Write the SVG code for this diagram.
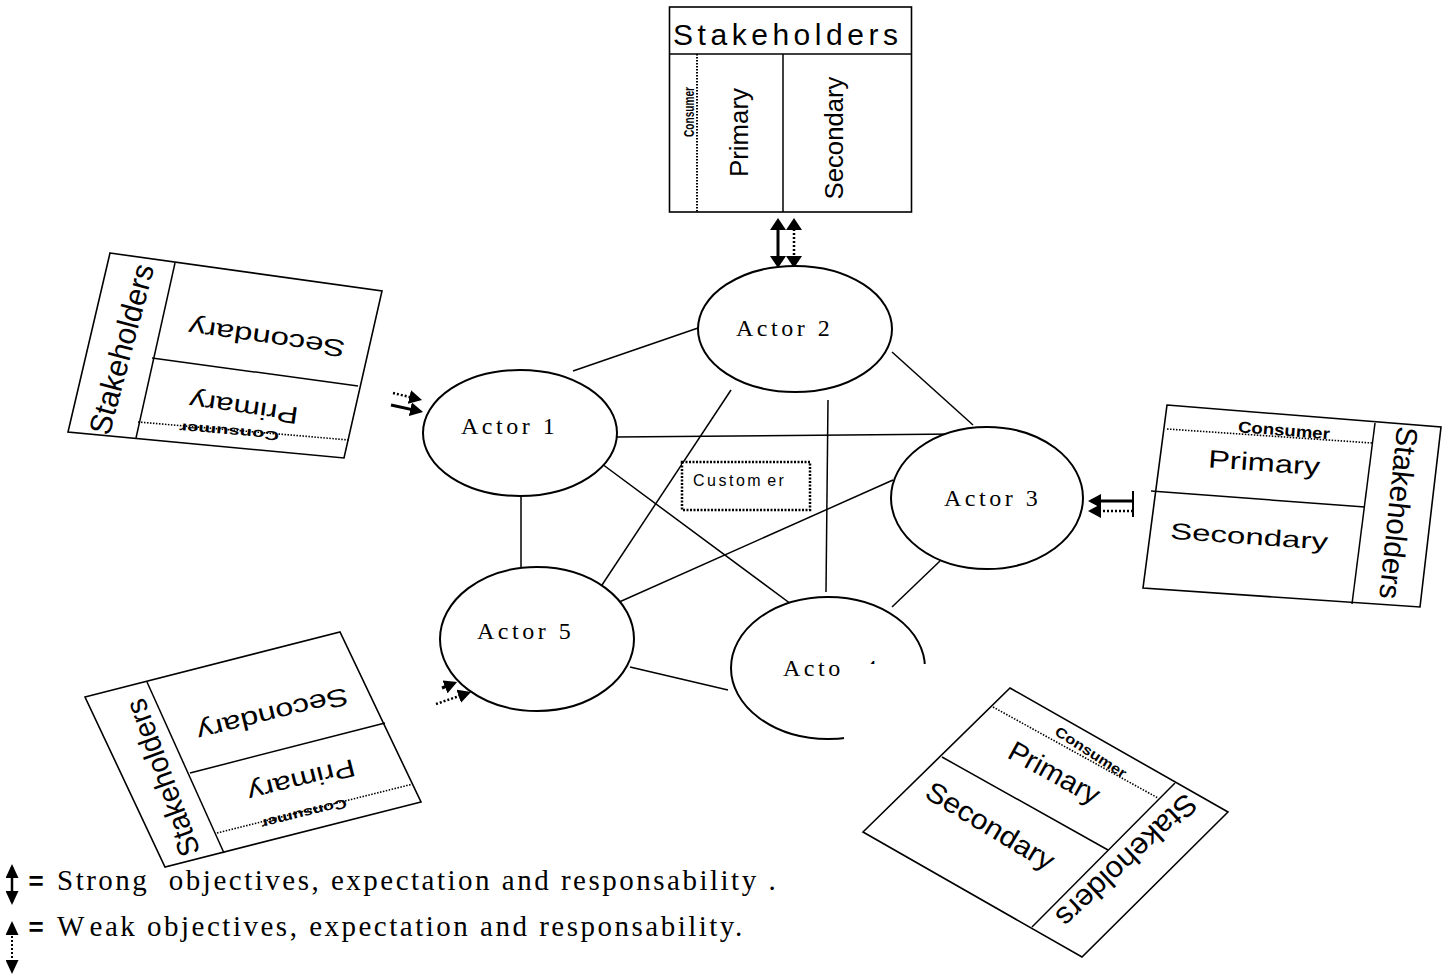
<svg xmlns="http://www.w3.org/2000/svg" width="1449" height="978" viewBox="0 0 1449 978">
<defs>
<style>
.edge{stroke:#000;stroke-width:1.5;fill:none}
.actor{fill:#fff;stroke:#000;stroke-width:2}
.alabel{font-family:"Liberation Serif","Times New Roman",serif;font-size:24px;letter-spacing:3.5px;fill:#000}
.box{fill:#fff;stroke:#000;stroke-width:1.6}
.div{stroke:#000;stroke-width:1.5;fill:none}
.dot{stroke:#000;stroke-width:1.6;stroke-dasharray:1.5 1.5;fill:none}
.sans{font-family:"Liberation Sans",Arial,sans-serif;fill:#000}
.cons{font-weight:bold}
.strong{stroke:#000;stroke-width:3;fill:none}
.weak{stroke:#000;stroke-width:2.5;stroke-dasharray:2 2;fill:none}
.leg{font-family:"Liberation Serif","Times New Roman",serif;font-size:29px;letter-spacing:2.5px;fill:#000}
</style>
<marker id="hL" viewBox="0 0 12 16" markerWidth="12" markerHeight="16" refX="9" refY="8" markerUnits="userSpaceOnUse" orient="auto-start-reverse"><path d="M0,0 L12,8 L0,16 z" fill="#000"/></marker>
<marker id="hM" viewBox="0 0 13 14" markerWidth="13" markerHeight="14" refX="10" refY="7" markerUnits="userSpaceOnUse" orient="auto-start-reverse"><path d="M0,0 L13,7 L0,14 z" fill="#000"/></marker>
<marker id="hS" viewBox="0 0 14 13" markerWidth="14" markerHeight="13" refX="11" refY="6.5" markerUnits="userSpaceOnUse" orient="auto-start-reverse"><path d="M0,0 L14,6.5 L0,13 z" fill="#000"/></marker>
</defs>
<rect width="1449" height="978" fill="#fff"/>

<g id="connectors">
<line class="edge" x1="573" y1="371" x2="698" y2="328"/>
<line class="edge" x1="892" y1="352" x2="973" y2="425"/>
<line class="edge" x1="617" y1="437" x2="958" y2="434"/>
<line class="edge" x1="598" y1="461" x2="795" y2="607"/>
<line class="edge" x1="521" y1="496" x2="521" y2="568"/>
<line class="edge" x1="731" y1="390" x2="600" y2="588"/>
<line class="edge" x1="828" y1="400" x2="826" y2="592"/>
<line class="edge" x1="893" y1="480" x2="617" y2="603"/>
<line class="edge" x1="940" y1="561" x2="892" y2="607"/>
<line class="edge" x1="630" y1="667" x2="728" y2="690"/>
<line class="strong" x1="778" y1="221" x2="778" y2="265" marker-start="url(#hL)" marker-end="url(#hL)"/>
<line class="weak" x1="794" y1="221" x2="794" y2="265" marker-start="url(#hL)" marker-end="url(#hL)"/>
<line class="weak" x1="393" y1="393" x2="419.1" y2="399.3" marker-end="url(#hM)"/>
<line class="strong" x1="391" y1="405" x2="420.1" y2="411.4" marker-end="url(#hM)"/>
<line class="strong" x1="1133" y1="501" x2="1091" y2="501" marker-end="url(#hM)"/>
<line class="weak" x1="1133" y1="511" x2="1091" y2="511" marker-end="url(#hM)"/>
<line class="div" x1="1133" y1="491" x2="1133" y2="517" style="stroke-width:2"/>
<line class="weak" x1="436" y1="704" x2="468.2" y2="693" marker-end="url(#hM)"/>
<line class="strong" x1="442" y1="688" x2="454.3" y2="683.2" marker-end="url(#hM)"/>
</g>

<g id="actor1"><ellipse class="actor" cx="520" cy="433" rx="97" ry="63"/><text class="alabel" x="461" y="434">Actor 1</text></g>
<g id="actor2"><ellipse class="actor" cx="795" cy="329" rx="97" ry="63"/><text class="alabel" x="736" y="336">Actor 2</text></g>
<g id="actor3"><ellipse class="actor" cx="987" cy="498" rx="96" ry="71"/><text class="alabel" x="944" y="506">Actor 3</text></g>
<g id="actor5"><ellipse class="actor" cx="537" cy="639" rx="97" ry="72"/><text class="alabel" x="477" y="639">Actor 5</text></g>
<g id="actor4"><ellipse class="actor" cx="828" cy="668" rx="97" ry="71"/><text class="alabel" x="783" y="676">Actor 4</text>
<rect x="844" y="664" width="106" height="96" fill="#fff"/></g>

<g id="customer">
<rect x="682" y="462" width="128" height="48" fill="#fff" stroke="#000" stroke-width="2.5" stroke-dasharray="2 1.5"/>
<text class="sans" x="693" y="486" font-size="16" letter-spacing="2.5">Custom<tspan dx="4">er</tspan></text>
</g>

<g id="stakeholders-top">
<rect class="box" x="669.5" y="7" width="242" height="205"/>
<line class="div" x1="669.5" y1="54" x2="911.5" y2="54"/>
<line class="div" x1="783" y1="54" x2="783" y2="212"/>
<line class="dot" x1="697" y1="54" x2="697" y2="212" style="stroke-width:2"/>
<text class="sans" x="673" y="45" font-size="30" textLength="225" lengthAdjust="spacing">Stakeholders</text>
<text class="sans cons" transform="translate(694,112) rotate(-90)" text-anchor="middle" font-size="14" textLength="50" lengthAdjust="spacingAndGlyphs">Consumer</text>
<text class="sans" transform="translate(748,132.5) rotate(-90)" text-anchor="middle" font-size="26" textLength="89" lengthAdjust="spacingAndGlyphs">Primary</text>
<text class="sans" transform="translate(843,138) rotate(-90)" text-anchor="middle" font-size="26" textLength="123" lengthAdjust="spacingAndGlyphs">Secondary</text>
</g>

<g id="stakeholders-left">
<polygon class="box" points="110,253 382,291 344,458 68,432"/>
<line class="div" x1="175" y1="263" x2="136" y2="438"/>
<line class="div" x1="152" y1="358" x2="358" y2="386"/>
<line class="dot" x1="138" y1="422" x2="349" y2="440"/>
<text class="sans" transform="translate(121,349) rotate(-75)" text-anchor="middle" dy="0.36em" font-size="31" textLength="175" lengthAdjust="spacingAndGlyphs">Stakeholders</text>
<text class="sans" transform="translate(267,336) rotate(188)" text-anchor="middle" dy="0.25em" font-size="24" textLength="158" lengthAdjust="spacingAndGlyphs">Secondary</text>
<text class="sans" transform="translate(244,406) rotate(188)" text-anchor="middle" dy="0.25em" font-size="24" textLength="110" lengthAdjust="spacingAndGlyphs">Primary</text>
<text class="sans cons" transform="translate(229,432) rotate(185)" text-anchor="middle" dy="0.36em" font-size="13" textLength="100" lengthAdjust="spacingAndGlyphs">Consumer</text>
</g>

<g id="stakeholders-right">
<polygon class="box" points="1167,405 1441,427 1420,607 1143,588"/>
<line class="div" x1="1375" y1="423" x2="1352" y2="604"/>
<line class="dot" x1="1167" y1="429" x2="1372" y2="443"/>
<line class="div" x1="1151" y1="491" x2="1365" y2="507"/>
<text class="sans cons" transform="translate(1284,430) rotate(4.5)" text-anchor="middle" dy="0.36em" font-size="16" textLength="92" lengthAdjust="spacingAndGlyphs">Consumer</text>
<text class="sans" transform="translate(1264,465) rotate(4)" text-anchor="middle" dy="0.25em" font-size="25" textLength="112" lengthAdjust="spacingAndGlyphs">Primary</text>
<text class="sans" transform="translate(1249,538.5) rotate(4)" text-anchor="middle" dy="0.25em" font-size="23" textLength="158" lengthAdjust="spacingAndGlyphs">Secondary</text>
<text class="sans" transform="translate(1399,513) rotate(96)" text-anchor="middle" dy="0.36em" font-size="30" textLength="173" lengthAdjust="spacingAndGlyphs">Stakeholders</text>
</g>

<g id="stakeholders-bottom-left">
<polygon class="box" points="85,697 340,632 421,802 165,867"/>
<line class="div" x1="147" y1="682" x2="224" y2="853"/>
<line class="div" x1="190" y1="773" x2="385" y2="723"/>
<line class="dot" x1="217" y1="833" x2="413" y2="784"/>
<text class="sans" transform="translate(272,712) rotate(166)" text-anchor="middle" dy="0.25em" font-size="25" textLength="155" lengthAdjust="spacingAndGlyphs">Secondary</text>
<text class="sans" transform="translate(301,778) rotate(166)" text-anchor="middle" dy="0.25em" font-size="25" textLength="110" lengthAdjust="spacingAndGlyphs">Primary</text>
<text class="sans cons" transform="translate(304,814) rotate(166)" text-anchor="middle" dy="0.36em" font-size="13" textLength="88" lengthAdjust="spacingAndGlyphs">Consumer</text>
<text class="sans" transform="translate(162,778) rotate(-110)" text-anchor="middle" dy="0.36em" font-size="30" textLength="165" lengthAdjust="spacingAndGlyphs">Stakeholders</text>
</g>

<g id="stakeholders-bottom-right">
<polygon class="box" points="1010,688 1228,812 1082,957 863,832"/>
<line class="div" x1="1175" y1="783" x2="1032" y2="927"/>
<line class="dot" x1="993" y1="707" x2="1158" y2="798"/>
<line class="div" x1="942" y1="757" x2="1108" y2="850"/>
<text class="sans cons" transform="translate(1091,752) rotate(33)" text-anchor="middle" dy="0.36em" font-size="14" textLength="82" lengthAdjust="spacingAndGlyphs">Consumer</text>
<text class="sans" transform="translate(1053,775) rotate(29)" text-anchor="middle" dy="0.25em" font-size="28" textLength="100" lengthAdjust="spacingAndGlyphs">Primary</text>
<text class="sans" transform="translate(989,828) rotate(31)" text-anchor="middle" dy="0.25em" font-size="28" textLength="145" lengthAdjust="spacingAndGlyphs">Secondary</text>
<text class="sans" transform="translate(1127,861) rotate(137)" text-anchor="middle" dy="0.36em" font-size="30" textLength="180" lengthAdjust="spacingAndGlyphs">Stakeholders</text>
</g>

<g id="legend">
<line class="strong" x1="12" y1="867" x2="12" y2="902" style="stroke-width:2.5" marker-start="url(#hS)" marker-end="url(#hS)"/>
<text class="sans" x="36" y="890" text-anchor="middle" font-size="26" font-weight="bold">=</text>
<text class="leg" x="57" y="890" xml:space="preserve">Strong  objectives, expectation and responsability .</text>
<line class="weak" x1="12" y1="924" x2="12" y2="971" style="stroke-width:2" marker-start="url(#hS)" marker-end="url(#hS)"/>
<text class="sans" x="36" y="936" text-anchor="middle" font-size="26" font-weight="bold">=</text>
<text class="leg" x="57" y="936" letter-spacing="2.1">W<tspan dx="5">eak objectives, expectation and responsability.</tspan></text>
</g>
</svg>
